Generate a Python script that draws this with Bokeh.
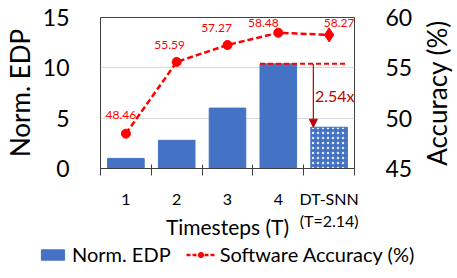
import math
from bokeh.plotting import figure
from bokeh.layouts import column, row
from bokeh.models import (Range1d, LinearAxis, FixedTicker, Legend, LegendItem,
                          Label, Arrow, NormalHead)
from bokeh.embed import file_html
from bokeh.resources import INLINE
from bokeh.core.properties import value

# ---- data ----
categories = ["1", "2", "3", "4", "DT-SNN\n(T=2.14)"]
norm_edp = [1.0, 2.8, 6.0, 10.4, 4.1]
accuracy = [48.46, 55.59, 57.27, 58.48, 58.27]
edp_ticks = [0, 5, 10, 15]
acc_ticks = [45, 50, 55, 60]
reduction_label = "2.54x"
acc_axis_label = "Accuracy (%)"

# ---- style ----
FONT = "Lato"
BLUE = "#4472C4"
RED = "#FF0000"
DARK_RED = "#C00000"
BAR_W = 0.72
label_dx = [-5, -7, -11, -15, 10]
label_dy = [-19, -17, -17, -10, -12]
TOP_H = 242

n = len(categories)
xs = [i + 0.5 for i in range(n)]

edp_range = Range1d(0, 15)
p = figure(width=415, height=TOP_H, x_range=Range1d(0, n), y_range=edp_range,
           output_backend="svg", toolbar_location=None,
           min_border_left=98, min_border_right=56, min_border_top=17,
           min_border_bottom=71)
p.extra_y_ranges = {"acc": Range1d(45, 60)}

# bars
bar_r = p.vbar(x=xs[:4], top=norm_edp[:4], width=BAR_W, fill_color=BLUE,
               line_color=BLUE)
p.vbar(x=[xs[4]], top=[norm_edp[4]], width=BAR_W, fill_color=BLUE,
       line_color=BLUE, hatch_pattern=".", hatch_color="white",
       hatch_scale=5, hatch_weight=1, hatch_alpha=0.85)

# reduction annotation
p.segment(x0=[xs[3] - BAR_W / 2], y0=[norm_edp[3]], x1=[xs[4] + BAR_W / 2],
          y1=[norm_edp[3]], line_color=RED, line_width=2, line_dash="5 3")
p.add_layout(Arrow(x_start=xs[4] - 0.31, y_start=norm_edp[3],
                   x_end=xs[4] - 0.31, y_end=norm_edp[4],
                   line_color=DARK_RED, line_width=1.2,
                   end=NormalHead(size=8, fill_color=DARK_RED,
                                  line_color=DARK_RED)))
p.add_layout(Label(x=xs[4] - 0.28, y=(norm_edp[3] + norm_edp[4]) / 2,
                   text=reduction_label, text_font=FONT, text_font_size="16px",
                   text_color=DARK_RED, text_align="left",
                   text_baseline="middle"))

# accuracy line
line_r = p.line(xs, accuracy, y_range_name="acc", line_color=RED,
                line_width=2.5, line_dash="6 3")
p.scatter(xs[:4], accuracy[:4], y_range_name="acc", marker="circle",
          size=9, color=RED)
p.scatter([xs[4]], [accuracy[4]], y_range_name="acc", marker="diamond",
          size=14, color=RED)
p.text(x=xs, y=accuracy, text=[f"{a:.2f}" for a in accuracy],
       x_offset=label_dx, y_offset=label_dy, y_range_name="acc",
       text_font=value(FONT), text_font_size="12px", text_color=RED,
       text_align="center", text_baseline="middle")

# x axis
xa = p.xaxis[0]
xa.ticker = FixedTicker(ticks=xs, minor_ticks=list(range(n + 1)))
xa.major_label_overrides = {x: c for x, c in zip(xs, categories)}
xa.major_tick_line_color = None
xa.minor_tick_out = 7
xa.minor_tick_in = 4
xa.minor_tick_line_color = "#404040"
xa.axis_line_color = "#404040"
xa.major_label_text_font = FONT
xa.major_label_text_font_size = "16px"
xa.major_label_text_color = "black"
xa.major_label_standoff = 13
xa.axis_label = "Timesteps (T)"
xa.axis_label_text_font = FONT
xa.axis_label_text_font_style = "normal"
xa.axis_label_text_font_size = "21px"
xa.axis_label_text_color = "black"
xa.axis_label_standoff = -19

# left y axis
ya = p.yaxis[0]
ya.ticker = FixedTicker(ticks=edp_ticks)
ya.major_tick_line_color = None
ya.minor_tick_line_color = None
ya.axis_line_color = None
ya.major_label_text_font = FONT
ya.major_label_text_font_size = "23px"
ya.major_label_text_color = "black"
ya.major_label_standoff = 25
ya.axis_label = "Norm. EDP"
ya.axis_label_text_font = FONT
ya.axis_label_text_font_style = "normal"
ya.axis_label_text_font_size = "26px"
ya.axis_label_text_color = "black"
ya.axis_label_standoff = 4

# right y axis (ticks only; its title is drawn in the strip to the right)
ra = LinearAxis(y_range_name="acc", ticker=FixedTicker(ticks=acc_ticks))
ra.major_tick_line_color = None
ra.minor_tick_line_color = None
ra.axis_line_color = None
ra.major_label_text_font = FONT
ra.major_label_text_font_size = "23px"
ra.major_label_text_color = "black"
ra.major_label_standoff = 25
p.add_layout(ra, "right")

# grid / frame
p.xgrid.visible = False
p.ygrid.ticker = FixedTicker(ticks=edp_ticks)
p.ygrid.grid_line_color = "#D9D9D9"
p.outline_line_color = "#404040"
p.outline_line_width = 1

# right title strip (reads bottom-to-top like the left title)
rl = figure(width=42, height=TOP_H, x_range=Range1d(0, 1), y_range=edp_range,
            x_axis_type=None, y_axis_type=None, output_backend="svg",
            toolbar_location=None, min_border_left=0, min_border_right=0,
            min_border_top=17, min_border_bottom=71, outline_line_color=None)
rl.grid.visible = False
rl.add_layout(Label(x=0.5, y=7.5, text=acc_axis_label, angle=math.pi / 2,
                    text_font=FONT, text_font_size="26px", text_color="black",
                    text_align="center", text_baseline="middle"))

# legend strip (same data, drawn off-range so only the legend shows)
lg = figure(width=457, height=278 - TOP_H, x_range=Range1d(100, 101),
            y_range=Range1d(100, 101), x_axis_type=None, y_axis_type=None,
            output_backend="svg", toolbar_location=None, min_border=0,
            outline_line_color=None)
lg.grid.visible = False
lg_bar = lg.vbar(x=xs, top=norm_edp, width=BAR_W, fill_color=BLUE,
                 line_color=BLUE)
lg_line = lg.line(xs, accuracy, line_color=RED, line_width=2.5,
                  line_dash="4 2")
lg_dot = lg.scatter(xs, accuracy, marker="circle", size=9, color=RED)
legend = Legend(items=[LegendItem(label="Norm. EDP", renderers=[lg_bar]),
                       LegendItem(label="Software Accuracy (%)",
                                  renderers=[lg_line, lg_dot])],
                location=(38, 12), orientation="horizontal",
                padding=0, margin=0, spacing=15, label_standoff=5,
                glyph_width=29, glyph_height=13,
                label_text_font=FONT, label_text_font_size="20px",
                label_text_color="black",
                background_fill_alpha=0, border_line_color=None)
lg.add_layout(legend, "center")

open("out.html", "w").write(file_html(column(row(p, rl), lg), INLINE))
